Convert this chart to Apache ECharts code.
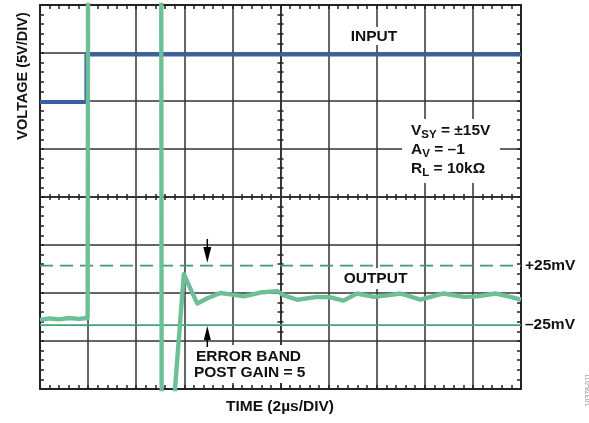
<!DOCTYPE html>
<html>
<head>
<meta charset="utf-8">
<script src="https://cdn.jsdelivr.net/npm/echarts@6/dist/echarts.min.js"></script>
<style>
html,body{margin:0;padding:0;background:#fff;}
#chart{width:589px;height:423px;}
</style>
</head>
<body>
<div id="chart"></div>
<script>
// Time in divisions (0..10, 2 µs/div), voltage in divisions (-4..4)
const inputX = [0, 0.965, 0.965, 10];
const inputY = [1.98, 1.98, 2.97, 2.97];

const outputX = [0, 0.2, 0.4, 0.6, 0.8, 0.99, 1.0, 1.0, 2.52, 2.53, 2.76, 2.99, 3.27, 3.48, 3.75, 3.96, 4.24, 4.58, 4.93, 5.07, 5.35, 5.76, 6.04, 6.31, 6.59, 6.94, 7.23, 7.49, 7.91, 8.39, 8.81, 9.09, 9.47, 9.78, 10];
const outputY = [-2.56, -2.53, -2.55, -2.52, -2.54, -2.52, -2.52, 5, 5, -5, -4.6, -1.61, -2.22, -2.11, -2.00, -2.03, -2.07, -1.99, -1.96, -2.05, -2.14, -2.08, -2.09, -2.16, -2.01, -2.08, -2.05, -2.01, -2.14, -2.01, -2.08, -2.07, -2.01, -2.08, -2.14];

const bandX = [0, 10];
const bandPlusY = [-1.43, -1.43];
const bandMinusY = [-2.67, -2.67];
const bandLabels = ['+25mV', '–25mV'];

const xTitle = 'TIME (2µs/DIV)';
const yTitle = 'VOLTAGE (5V/DIV)';

const pair = (xs, ys) => xs.map((x, i) => [x, ys[i]]);

const FONT = "'Liberation Sans', Arial, sans-serif";
const GRID = {left: 40, right: 68, top: 5, bottom: 34};
const gridColor = '#333';
const borderColor = '#222';

function borderX(pos) {
  return {
    gridIndex: 0, type: 'value', min: 0, max: 10, interval: 1, position: pos,
    axisLine: {show: true, onZero: false, lineStyle: {color: borderColor, width: 2}},
    axisTick: {show: true, inside: true, length: 4, lineStyle: {color: borderColor, width: 1.5}},
    minorTick: {show: true, splitNumber: 5, length: 4, lineStyle: {color: borderColor, width: 1.5}},
    axisLabel: {show: false},
    splitLine: {show: pos === 'bottom', lineStyle: {color: gridColor, width: 1.5}},
    minorSplitLine: {show: false}
  };
}
function borderY(pos) {
  return {
    gridIndex: 0, type: 'value', min: -4, max: 4, interval: 1, position: pos,
    axisLine: {show: true, onZero: false, lineStyle: {color: borderColor, width: 2}},
    axisTick: {show: true, inside: true, length: 4, lineStyle: {color: borderColor, width: 1.5}},
    minorTick: {show: true, splitNumber: 5, length: 4, lineStyle: {color: borderColor, width: 1.5}},
    axisLabel: {show: false},
    splitLine: {show: pos === 'left', lineStyle: {color: gridColor, width: 1.5}},
    minorSplitLine: {show: false}
  };
}
function centerX(pos) {
  return {
    gridIndex: 1, type: 'value', min: -5, max: 5, interval: 1, position: pos,
    axisLine: {show: true, onZero: true, lineStyle: {color: gridColor, width: 1.5}},
    axisTick: {show: false},
    minorTick: {show: true, splitNumber: 5, length: 3, lineStyle: {color: borderColor, width: 1.5}},
    axisLabel: {show: false}, splitLine: {show: false}
  };
}
function centerY(pos) {
  return {
    gridIndex: 1, type: 'value', min: -4, max: 4, interval: 1, position: pos,
    axisLine: {show: true, onZero: true, lineStyle: {color: gridColor, width: 1.5}},
    axisTick: {show: false},
    minorTick: {show: true, splitNumber: 5, length: 3, lineStyle: {color: borderColor, width: 1.5}},
    axisLabel: {show: false}, splitLine: {show: false}
  };
}

const boldText = (extra) => Object.assign({
  fontFamily: FONT, fontWeight: 'bold', fontSize: 15.5, fill: '#111'
}, extra);

const chart = echarts.init(document.getElementById('chart'), null, {renderer: 'canvas'});
chart.setOption({
  animation: false,
  backgroundColor: '#fff',
  grid: [Object.assign({}, GRID), Object.assign({}, GRID)],
  xAxis: [borderX('bottom'), borderX('top'), centerX('bottom'), centerX('top')],
  yAxis: [borderY('left'), borderY('right'), centerY('left'), centerY('right')],
  series: [
    {
      type: 'line', xAxisIndex: 0, yAxisIndex: 0, z: 3,
      data: pair(bandX, bandPlusY), symbol: 'none', silent: true,
      lineStyle: {color: '#3f9b6d', width: 1.6, type: [13, 7]},
      endLabel: {show: true, formatter: () => bandLabels[0], distance: 4,
        fontFamily: FONT, fontWeight: 'bold', fontSize: 15.5, color: '#111'}
    },
    {
      type: 'line', xAxisIndex: 0, yAxisIndex: 0, z: 3,
      data: pair(bandX, bandMinusY), symbol: 'none', silent: true,
      lineStyle: {color: '#45a476', width: 1.8},
      endLabel: {show: true, formatter: () => bandLabels[1], distance: 4,
        fontFamily: FONT, fontWeight: 'bold', fontSize: 15.5, color: '#111'}
    },
    {
      type: 'line', xAxisIndex: 0, yAxisIndex: 0, z: 4,
      data: pair(inputX, inputY), symbol: 'none', silent: true, clip: true,
      lineStyle: {color: '#3c5ea3', width: 4}
    },
    {
      type: 'line', xAxisIndex: 0, yAxisIndex: 0, z: 5,
      data: pair(outputX, outputY), symbol: 'none', silent: true, clip: true,
      lineStyle: {color: '#6dbf97', width: 4.4, join: 'round'}
    }
  ],
  graphic: [
    {type: 'text', z: 100, x: 22.5, y: 76, rotation: Math.PI / 2,
      style: boldText({text: yTitle, fontSize: 14.5, align: 'center', verticalAlign: 'middle'})},
    {type: 'text', z: 100, x: 280, y: 407,
      style: boldText({text: xTitle, align: 'center', verticalAlign: 'middle'})},
    {type: 'rect', z: 90, shape: {x: 346, y: 27, width: 56, height: 18}, style: {fill: '#fff'}},
    {type: 'text', z: 100, x: 374, y: 36.5,
      style: boldText({text: 'INPUT', align: 'center', verticalAlign: 'middle'})},
    {type: 'rect', z: 90, shape: {x: 339, y: 268, width: 73, height: 21}, style: {fill: '#fff'}},
    {type: 'text', z: 100, x: 375.5, y: 279,
      style: boldText({text: 'OUTPUT', align: 'center', verticalAlign: 'middle'})},
    {type: 'rect', z: 90, shape: {x: 402, y: 119, width: 98, height: 64}, style: {fill: '#fff'}},
    {type: 'text', z: 100, x: 411, y: 121.5,
      style: {
        text: '{b|V}{s|SY}{b| = ±15V}\n{b|A}{s|V}{b| = –1}\n{b|R}{s|L}{b| = 10kΩ}',
        align: 'left', verticalAlign: 'top', fill: '#111',
        fontFamily: FONT, fontWeight: 'bold', fontSize: 15.5,
        rich: {
          b: {fontFamily: FONT, fontWeight: 'bold', fontSize: 15.5, lineHeight: 19, verticalAlign: 'middle', fill: '#111', color: '#111'},
          s: {fontFamily: FONT, fontWeight: 'bold', fontSize: 11.5, lineHeight: 11, verticalAlign: 'bottom', fill: '#111', color: '#111'}
        }
      }},
    {type: 'rect', z: 90, shape: {x: 189, y: 345, width: 118, height: 38}, style: {fill: '#fff'}},
    {type: 'text', z: 100, x: 248.5, y: 356.7,
      style: boldText({text: 'ERROR BAND', align: 'center', verticalAlign: 'middle'})},
    {type: 'text', z: 100, x: 249.7, y: 372.3,
      style: boldText({text: 'POST GAIN = 5', align: 'center', verticalAlign: 'middle'})},
    {type: 'line', z: 100, shape: {x1: 207.3, y1: 239, x2: 207.3, y2: 249}, style: {stroke: '#000', lineWidth: 1.5}},
    {type: 'polygon', z: 100, shape: {points: [[203.3, 247], [211.3, 247], [207.3, 262.7]]}, style: {fill: '#000'}},
    {type: 'line', z: 100, shape: {x1: 207.3, y1: 338, x2: 207.3, y2: 347}, style: {stroke: '#000', lineWidth: 1.5}},
    {type: 'polygon', z: 100, shape: {points: [[203.8, 340], [210.8, 340], [207.3, 326]]}, style: {fill: '#000'}},
    {type: 'text', z: 100, x: 588, y: 390, rotation: Math.PI / 2,
      style: {text: '10378-011', fontFamily: FONT, fontSize: 7, fill: '#888', align: 'center', verticalAlign: 'middle'}}
  ]
});
</script>
</body>
</html>
